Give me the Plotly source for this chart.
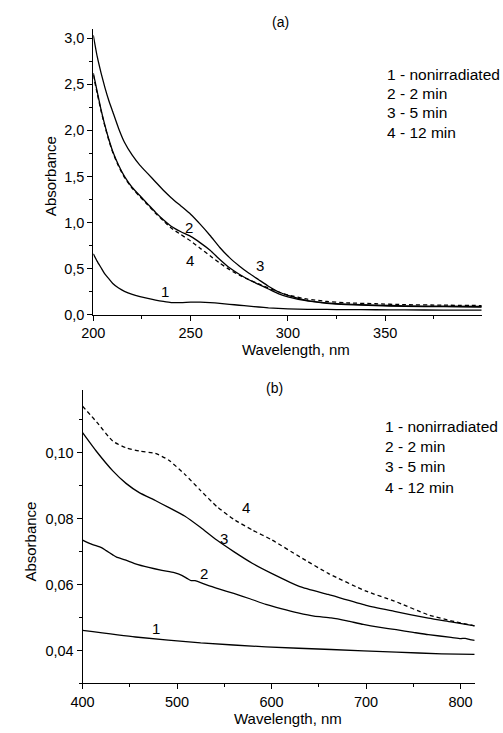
import plotly.graph_objects as go

# ---------------- Panel (a) data ----------------
wl_a = [200, 202, 204, 206, 208, 210, 213, 216, 220, 224, 228, 232, 236, 240, 245, 250,
        255, 260, 265, 270, 275, 280, 285, 290, 295, 300, 310, 320, 330, 345, 360, 380, 400]
a_nonirr = [0.66, 0.58, 0.51, 0.44, 0.39, 0.34, 0.29, 0.255, 0.222, 0.198, 0.178, 0.16, 0.145, 0.133,
            0.132, 0.138, 0.138, 0.133, 0.124, 0.114, 0.104, 0.094, 0.085, 0.076, 0.07, 0.065,
            0.06, 0.058, 0.056, 0.055, 0.053, 0.052, 0.05]
a_2min = [2.62, 2.42, 2.22, 2.05, 1.90, 1.77, 1.62, 1.50, 1.38, 1.29, 1.20, 1.11, 1.03, 0.96,
          0.90, 0.85, 0.78, 0.70, 0.60, 0.51, 0.44, 0.38, 0.33, 0.28, 0.23, 0.195,
          0.15, 0.125, 0.11, 0.10, 0.092, 0.088, 0.085]
a_5min = [3.03, 2.80, 2.62, 2.46, 2.32, 2.20, 2.02, 1.87, 1.73, 1.62, 1.53, 1.44, 1.35, 1.27,
          1.18, 1.09, 0.98, 0.86, 0.73, 0.62, 0.53, 0.45, 0.38, 0.31, 0.25, 0.21,
          0.155, 0.13, 0.115, 0.105, 0.098, 0.093, 0.09]
a_12min = [2.60, 2.40, 2.21, 2.04, 1.89, 1.76, 1.61, 1.49, 1.37, 1.28, 1.19, 1.10, 1.02, 0.94,
           0.87, 0.80, 0.72, 0.64, 0.56, 0.49, 0.43, 0.38, 0.335, 0.29, 0.25, 0.215,
           0.17, 0.145, 0.13, 0.12, 0.11, 0.105, 0.10]

# ---------------- Panel (b) data ----------------
wl_b = [400, 415, 432, 446, 460, 477, 491, 508, 525, 542, 560, 580, 600, 630, 660, 700, 730, 766, 790, 815]
b_5min = [0.1061, 0.1003, 0.0945, 0.0907, 0.0879, 0.0855, 0.0834, 0.0808, 0.0773, 0.0735, 0.0700,
          0.0664, 0.0634, 0.0594, 0.0570, 0.0537, 0.0519, 0.0498, 0.0487, 0.0475]
b_12min = [0.1141, 0.1093, 0.1035, 0.1015, 0.1005, 0.0998, 0.0978, 0.0935, 0.0885, 0.0837, 0.0798,
           0.0765, 0.0736, 0.0684, 0.0634, 0.0580, 0.0550, 0.0508, 0.0490, 0.0475]
wl_b2 = [400, 410, 420, 425, 432, 436, 445, 456, 470, 484, 497, 505, 511, 515, 519, 532, 545, 560,
         577, 594, 610, 628, 645, 663, 680, 697, 715, 732, 750, 766, 790, 800, 805, 810, 815]
b_2min = [0.0735, 0.0722, 0.0712, 0.0703, 0.0690, 0.0683, 0.0675, 0.0663, 0.0652, 0.0643, 0.0636,
          0.0628, 0.0618, 0.0612, 0.0612, 0.0598, 0.0586, 0.0573, 0.0557, 0.0540, 0.0527, 0.0514,
          0.0504, 0.0499, 0.0490, 0.0479, 0.0470, 0.0463, 0.0455, 0.0448, 0.0440, 0.0436, 0.0437,
          0.0433, 0.0431]
wl_b1 = [400, 456, 525, 594, 663, 732, 780, 815]
b_nonirr = [0.0461, 0.0441, 0.0423, 0.0411, 0.0403, 0.0395, 0.0390, 0.0388]

legend_lines = ["1 - nonirradiated", "2 - 2 min", "3 - 5 min", "4 - 12 min"]

FONT = "Liberation Sans, Arial, sans-serif"
W, H = 503, 733

fig = go.Figure()
solid = dict(color="black", width=1.3)
dashed = dict(color="black", width=1.3, dash="4px,3px")

for y, ln in [(a_nonirr, solid), (a_2min, solid), (a_5min, solid), (a_12min, dashed)]:
    fig.add_trace(go.Scatter(x=wl_a, y=y, mode="lines", line=dict(shape="spline", smoothing=0.5, **ln),
                             xaxis="x", yaxis="y", showlegend=False, hoverinfo="skip"))

for x, y, ln in [(wl_b1, b_nonirr, solid), (wl_b2, b_2min, solid), (wl_b, b_5min, solid), (wl_b, b_12min, dashed)]:
    fig.add_trace(go.Scatter(x=x, y=y, mode="lines", line=dict(shape="spline", smoothing=0.5, **ln),
                             xaxis="x2", yaxis="y2", showlegend=False, hoverinfo="skip"))

def px_x(p):
    return p / W

def px_y(p):
    return 1 - p / H

axis_common = dict(showline=True, linecolor="black", linewidth=1, showgrid=False, zeroline=False,
                   ticks="outside", ticklen=5, tickwidth=1, tickcolor="black",
                   tickfont=dict(family=FONT, size=14.5, color="black"), mirror=False)

fig.update_layout(
    width=W, height=H, margin=dict(l=0, r=0, t=0, b=0),
    plot_bgcolor="white", paper_bgcolor="white", separators=", ",
    xaxis=dict(domain=[px_x(83.3), px_x(481)], range=[200, 399.5], anchor="y",
               tick0=200, dtick=50, minor=dict(dtick=25, ticklen=3, tickcolor="black", ticks="outside"),
               **axis_common),
    yaxis=dict(domain=[px_y(318.3), px_y(29.1)], range=[0, 3.1], anchor="x",
               tick0=0, dtick=0.5, tickformat=".1f",
               minor=dict(dtick=0.25, ticklen=3, tickcolor="black", ticks="outside"),
               **axis_common),
    xaxis2=dict(domain=[px_x(72.3), px_x(474)], range=[400, 815], anchor="y2",
                tick0=400, dtick=100, minor=dict(dtick=50, ticklen=3, tickcolor="black", ticks="outside"),
                **axis_common),
    yaxis2=dict(domain=[px_y(691), px_y(394.4)], range=[0.03, 0.119], anchor="x2",
                tick0=0, dtick=0.02, tickformat=".2f",
                minor=dict(dtick=0.01, ticklen=3, tickcolor="black", ticks="outside"),
                **axis_common),
)

ann = []
def text(x, y, s, xanchor="center", size=15, angle=0):
    ann.append(dict(x=px_x(x), y=px_y(y), xref="paper", yref="paper", text=s, showarrow=False,
                    xanchor=xanchor, yanchor="middle", textangle=angle,
                    font=dict(family=FONT, size=size, color="black")))

def dtext(x, y, s, xr, yr):
    ann.append(dict(x=x, y=y, xref=xr, yref=yr, text=s, showarrow=False,
                    xanchor="center", yanchor="middle", font=dict(family=FONT, size=15, color="black")))

# panel titles
text(275, 22, "(a)", size=14)
text(269, 392, "(b)", size=14)
# axis titles
text(291, 353, "Wavelength, nm", size=15)
text(283, 726, "Wavelength, nm", size=15)
text(39, 178, "Absorbance", size=15, angle=-90)
text(18, 548, "Absorbance", size=15, angle=-90)
# legends
for i, s in enumerate(legend_lines):
    text(382.5, 75 + 19.5 * i, s, xanchor="left", size=15.5)
    text(380, 431 + 20.5 * i, s, xanchor="left", size=15.5)
# curve labels
dtext(237, 0.25, "1", "x", "y")
dtext(249, 0.946, "2", "x", "y")
dtext(249.5, 0.59, "4", "x", "y")
dtext(285.6, 0.54, "3", "x", "y")
dtext(573.3, 0.0834, "4", "x2", "y2")
dtext(549.6, 0.0741, "3", "x2", "y2")
dtext(528.9, 0.0633, "2", "x2", "y2")
dtext(478.2, 0.0468, "1", "x2", "y2")

fig.update_layout(annotations=ann)
fig.write_html("out.html")
